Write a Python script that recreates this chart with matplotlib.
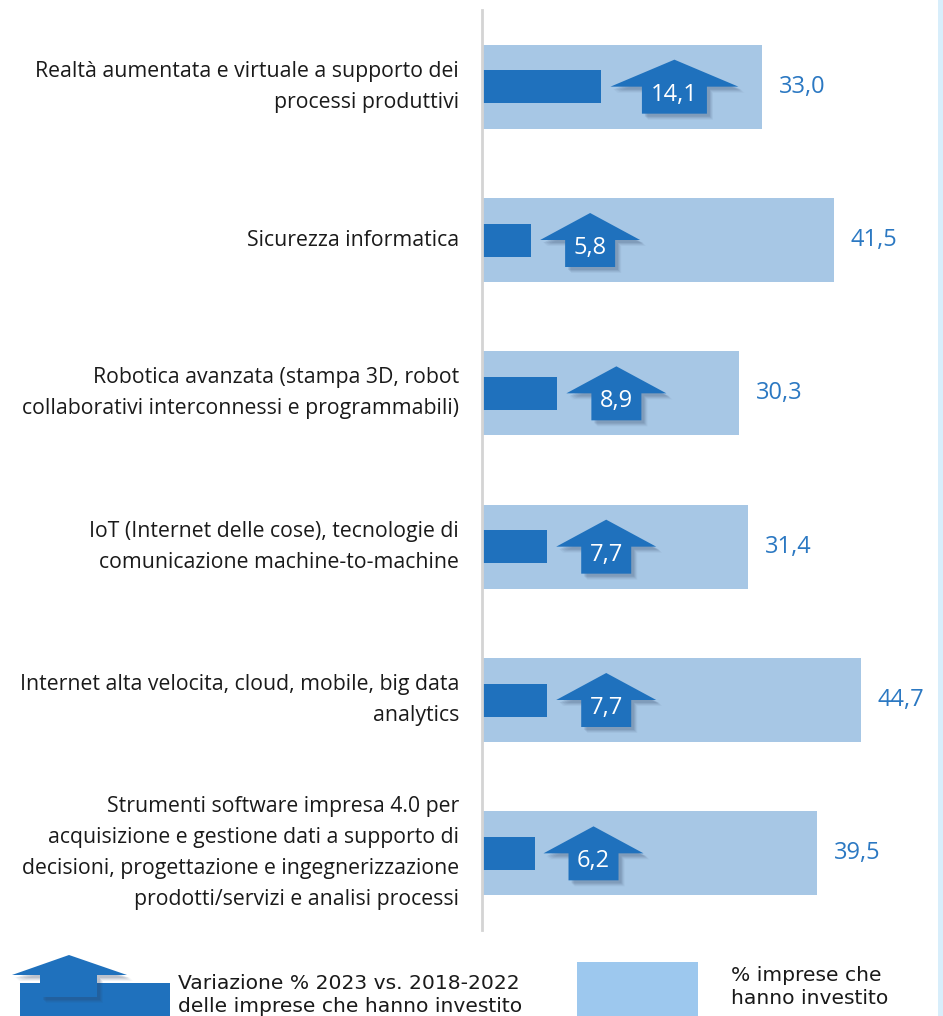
import matplotlib
matplotlib.use("Agg")
import matplotlib.pyplot as plt
from matplotlib.patches import Polygon, Rectangle

categories = [
    "Realtà aumentata e virtuale a supporto dei\nprocessi produttivi",
    "Sicurezza informatica",
    "Robotica avanzata (stampa 3D, robot\ncollaborativi interconnessi e programmabili)",
    "IoT (Internet delle cose), tecnologie di\ncomunicazione machine-to-machine",
    "Internet alta velocita, cloud, mobile, big data\nanalytics",
    "Strumenti software impresa 4.0 per\nacquisizione e gestione dati a supporto di\ndecisioni, progettazione e ingegnerizzazione\nprodotti/servizi e analisi processi",
]
pct_invested = [33.0, 41.5, 30.3, 31.4, 44.7, 39.5]
variation = [14.1, 5.8, 8.9, 7.7, 7.7, 6.2]

legend_arrow_label = "Variazione % 2023 vs. 2018-2022\ndelle imprese che hanno investito"
legend_bar_label = "% imprese che\nhanno investito"

W, H = 943, 1016
DPI = 100
LIGHT = "#a7c7e5"
DARK = "#1f71bd"
VALCOL = "#2b78c2"
TXT = "#1a1a1a"
FONT = ["Open Sans", "DejaVu Sans"]

fig = plt.figure(figsize=(W / DPI, H / DPI), dpi=DPI)
fig.patch.set_facecolor("white")

ax_l, ax_r, ax_t, ax_b = 482, 940, 10, 930
ax = fig.add_axes([ax_l / W, 1 - ax_b / H, (ax_r - ax_l) / W, (ax_b - ax_t) / H])
xmax = (ax_r - ax_l) / 8.47
ax.set_xlim(0, xmax)
n = len(categories)
ax.set_ylim(n - 0.5, -0.5)
ax.axis("off")
ax.plot([0, 0], [-0.5, n - 0.5], color="#d4d4d4", lw=2, clip_on=False, zorder=5)

upx = xmax / (ax_r - ax_l)       # x data units per pixel
upy = n / (ax_b - ax_t)          # y data units per pixel

ys = list(range(n))
ax.barh(ys, pct_invested, height=84 * upy, color=LIGHT, zorder=1)
ax.barh(ys, variation, height=33 * upy, color=DARK, zorder=2)


def arrow_poly(x0, y0, tw, bw, sx, sy):
    cx = x0 + tw / 2 * sx
    return [
        (x0, y0),
        (cx, y0 - 27 * sy),
        (x0 + tw * sx, y0),
        (cx + bw / 2 * sx, y0),
        (cx + bw / 2 * sx, y0 + 27 * sy),
        (cx - bw / 2 * sx, y0 + 27 * sy),
        (cx - bw / 2 * sx, y0),
    ]


for y, v, p, cat in zip(ys, variation, pct_invested, categories):
    lab = f"{v:.1f}".replace(".", ",")
    tw = 128 if len(lab) > 3 else 100
    bw = 65 if len(lab) > 3 else 50
    x0 = v + 9 * upx
    for k, a in [(6, 0.06), (5, 0.08), (4, 0.10), (3, 0.12)]:
        pts = arrow_poly(x0 + k * upx, y + k * upy, tw, bw, upx, upy)
        ax.add_patch(Polygon(pts, closed=True, facecolor="#304060", alpha=a,
                             edgecolor="none", zorder=3))
    ax.add_patch(Polygon(arrow_poly(x0, y, tw, bw, upx, upy), closed=True,
                         facecolor=DARK, edgecolor="none", zorder=4))
    ax.text(x0 + tw / 2 * upx, y + 8 * upy, lab, color="white", fontsize=17,
            ha="center", va="center", family=FONT, zorder=6)
    ax.text(p + 17 * upx, y, f"{p:.1f}".replace(".", ","), color=VALCOL,
            fontsize=17, ha="left", va="center", family=FONT, zorder=6)
    ax.text(-23 * upx, y, cat, color=TXT, fontsize=15.3,
            ha="right", va="center", family=FONT, linespacing=1.62, zorder=6)

# overlay for legend & decoration (pixel coordinates)
ov = fig.add_axes([0, 0, 1, 1], zorder=10)
ov.set_xlim(0, W)
ov.set_ylim(H, 0)
ov.axis("off")
ov.patch.set_alpha(0)
ov.add_patch(Rectangle((938, 0), 5, H, facecolor="#d8eefb", edgecolor="none"))

ov.add_patch(Rectangle((20, 983), 150, 40, facecolor=DARK, edgecolor="none"))
leg = [(12, 975), (69, 955), (127, 975), (97, 975), (97, 997), (40, 997), (40, 975)]
for k, a in [(6, 0.06), (5, 0.08), (4, 0.10), (3, 0.12)]:
    ov.add_patch(Polygon([(x + k, yy + k) for x, yy in leg], closed=True,
                         facecolor="#304060", alpha=a, edgecolor="none"))
ov.add_patch(Polygon(leg, closed=True, facecolor=DARK, edgecolor="none"))
ov.text(178, 995, legend_arrow_label, fontsize=14.6, color=TXT, ha="left",
        va="center", family=["Liberation Sans Narrow", "DejaVu Sans"],
        linespacing=1.25)
ov.add_patch(Rectangle((577, 962), 121, 60, facecolor="#9dc8ee", edgecolor="none"))
ov.text(731, 987, legend_bar_label, fontsize=14.6, color=TXT, ha="left",
        va="center", family=["Liberation Sans Narrow", "DejaVu Sans"],
        linespacing=1.25)

fig.savefig("out.png", dpi=DPI)
